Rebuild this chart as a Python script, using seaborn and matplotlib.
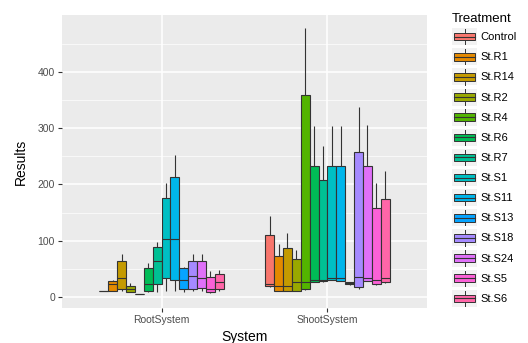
import matplotlib
matplotlib.use("Agg")
import matplotlib.pyplot as plt
from matplotlib.patches import Patch, Rectangle
from matplotlib.lines import Line2D
from matplotlib.legend_handler import HandlerBase
import seaborn as sns
import pandas as pd

# treatment levels and the ggplot hue colours for 14 levels
treatments = ["Control", "St.R1", "St.R14", "St.R2", "St.R4", "St.R6", "St.R7",
              "St.S1", "St.S11", "St.S13", "St.S18", "St.S24", "St.S5", "St.S6"]
colors = ["#F8766D", "#E38900", "#C49A00", "#99A800", "#53B400", "#00BC56", "#00C094",
          "#00BFC4", "#00B6EB", "#06A4FF", "#A58AFF", "#DF70F8", "#FB61D7", "#FF66A8"]
systems = ["RootSystem", "ShootSystem"]
y_ticks = [0, 100, 200, 300, 400]

root_min = [10, 10, 11, 8, 4.5, 8, 9.5, 11, 11, 8, 11, 11, 7, 11]
root_q1 = [10.3, 11, 14, 8.5, 5, 11, 23, 34, 31, 13.7, 15, 16.6, 8, 15]
root_med = [10.6, 22.5, 33, 13.7, 5.3, 22.5, 64.5, 102.5, 102.5, 30, 37, 33, 13.7, 26]
root_q3 = [11, 28.5, 64.5, 20, 5.6, 51, 88, 176.5, 214, 52, 64.5, 64.5, 36, 41]
root_max = [11, 31, 76, 24, 6, 61, 98, 203, 252, 53, 76, 76, 47, 48]

shoot_min = [18, 10, 10, 10, 12, 26, 27, 30, 28, 22, 15, 28, 22, 25]
shoot_q1 = [20, 11, 11, 11, 13.7, 27, 28, 31, 29, 22.5, 18, 29, 22.5, 26]
shoot_med = [22.5, 20, 20, 26, 26, 31, 31, 33, 33, 24, 35, 33, 31, 33]
shoot_q3 = [110, 73, 86.5, 67, 359, 233.5, 208, 233.5, 233.5, 26, 258, 233.5, 158, 174]
shoot_max = [143, 94, 113, 83.5, 478, 304, 268, 304, 304, 26.5, 337, 306, 203, 224]

rows = []
for system, cols in [("RootSystem", (root_min, root_q1, root_med, root_q3, root_max)),
                     ("ShootSystem", (shoot_min, shoot_q1, shoot_med, shoot_q3, shoot_max))]:
    for i, t in enumerate(treatments):
        for col in cols:
            rows.append({"System": system, "Treatment": t, "Results": col[i]})
df = pd.DataFrame(rows)

plt.rcParams["font.family"] = ["Liberation Sans", "DejaVu Sans"]

fig = plt.figure(figsize=(5.28, 3.43), dpi=100)
ax = fig.add_axes([62 / 528, 1 - 308 / 343, 365 / 528, 293 / 343])
ax.set_facecolor("#EBEBEB")

sns.boxplot(data=df, x="System", y="Results", hue="Treatment", order=systems,
            hue_order=treatments, palette=colors, saturation=1, width=0.75, gap=0,
            whis=(0, 100), linewidth=0.8, linecolor="#333333", showcaps=False,
            legend=False, ax=ax, zorder=3)

ax.set_xlim(-0.6, 1.6)
ax.set_ylim(-19.6, 501)
ax.set_yticks(y_ticks)
ax.set_yticks([50, 150, 250, 350, 450], minor=True)
ax.grid(which="major", color="white", linewidth=1.1, zorder=0)
ax.grid(which="minor", axis="y", color="white", linewidth=0.5, zorder=0)
ax.set_axisbelow(True)
for s in ax.spines.values():
    s.set_visible(False)
ax.tick_params(axis="both", which="major", length=3, width=0.8, color="#333333",
               labelsize=7.5, labelcolor="#4D4D4D", pad=2)
ax.tick_params(axis="y", which="minor", length=0)
ax.set_xlabel("System", fontsize=10, color="black", labelpad=4)
ax.set_ylabel("Results", fontsize=10, color="black", labelpad=7)


class BoxKey(HandlerBase):
    # ggplot-style boxplot legend key
    def create_artists(self, legend, orig_handle, xdescent, ydescent, width, height,
                       fontsize, trans):
        x0, y0 = -xdescent, -ydescent
        bg = Rectangle((x0, y0), width, height, facecolor="#F2F2F2", edgecolor="none",
                       transform=trans)
        cx = x0 + width / 2
        w1 = Line2D([cx, cx], [y0 + 0.05 * height, y0 + 0.28 * height], color="#333333",
                    lw=0.7, transform=trans)
        w2 = Line2D([cx, cx], [y0 + 0.72 * height, y0 + 0.95 * height], color="#333333",
                    lw=0.7, transform=trans)
        box = Rectangle((x0 + 0.08 * width, y0 + 0.28 * height), 0.84 * width, 0.44 * height,
                        facecolor=orig_handle.get_facecolor(), edgecolor="#333333",
                        lw=0.7, transform=trans)
        med = Line2D([x0 + 0.08 * width, x0 + 0.92 * width], [y0 + 0.5 * height] * 2,
                     color="#333333", lw=0.8, transform=trans)
        return [bg, w1, w2, box, med]


handles = [Patch(facecolor=c) for c in colors]
leg = fig.legend(handles, treatments, loc="upper left", bbox_to_anchor=(452 / 528, 1 - 13 / 343),
                 frameon=False, title="Treatment", fontsize=8, title_fontsize=9.5,
                 handlelength=2.25, handleheight=1.98, labelspacing=0.28, handletextpad=0.3,
                 borderaxespad=0, borderpad=0, handler_map={Patch: BoxKey()})
leg._legend_box.align = "left"

fig.savefig("out.png", dpi=100, facecolor="white")
